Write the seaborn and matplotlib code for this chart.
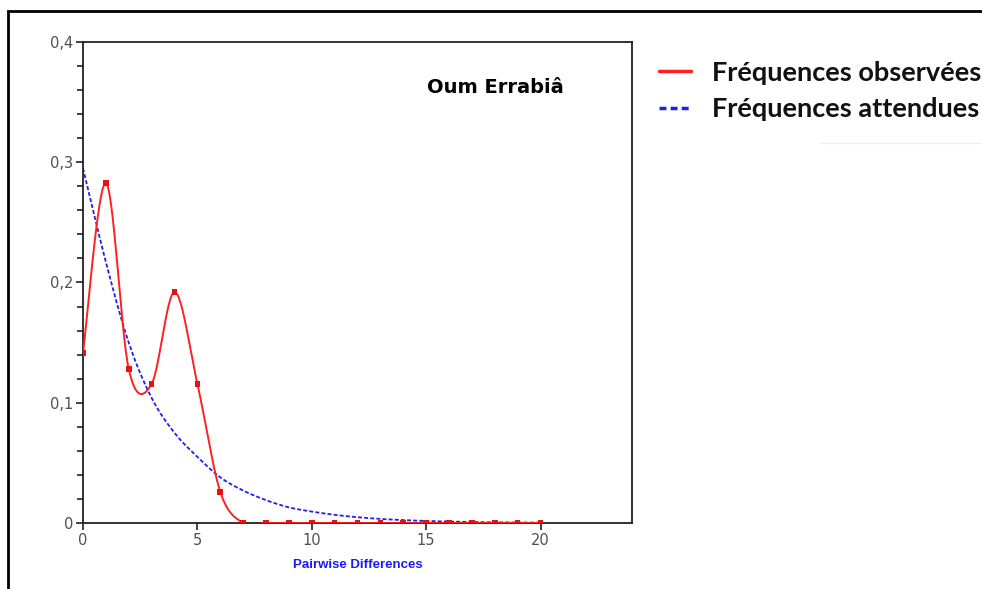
import numpy as np
import pandas as pd
import matplotlib
matplotlib.use("Agg")
import matplotlib.pyplot as plt
from matplotlib.ticker import FuncFormatter, MultipleLocator
from matplotlib.patches import Rectangle
from matplotlib.lines import Line2D
import seaborn as sns

# Mismatch distribution: pairwise differences 0..20
differences = list(range(21))
observed = [0.1414, 0.2827, 0.1280, 0.1156, 0.1920, 0.1156, 0.0260,
            0, 0, 0, 0, 0, 0, 0, 0, 0, 0, 0, 0, 0, 0]
expected = [0.295, 0.217, 0.150, 0.104, 0.075, 0.055, 0.038, 0.027,
            0.019, 0.013, 0.0095, 0.0068, 0.0048, 0.0034, 0.0024,
            0.0017, 0.0012, 0.0008, 0.0006, 0.0004, 0.0003]

site_name = "Oum Errabiâ"
label_observed = "Fréquences observées"
label_expected = "Fréquences attendues"
x_title = "Pairwise Differences"


def cardinal_spline(x, y, tension=0.5, steps=30):
    """Smooth curve through the points (Catmull-Rom style Hermite segments)."""
    x = np.asarray(x, float)
    y = np.asarray(y, float)
    n = len(x)
    mx = np.empty(n)
    my = np.empty(n)
    for i in range(n):
        a = max(i - 1, 0)
        b = min(i + 1, n - 1)
        mx[i] = tension * (x[b] - x[a])
        my[i] = tension * (y[b] - y[a])
    xs, ys = [], []
    t = np.linspace(0, 1, steps, endpoint=False)
    h00 = 2 * t**3 - 3 * t**2 + 1
    h10 = t**3 - 2 * t**2 + t
    h01 = -2 * t**3 + 3 * t**2
    h11 = t**3 - t**2
    for i in range(n - 1):
        xs.append(h00 * x[i] + h10 * mx[i] + h01 * x[i + 1] + h11 * mx[i + 1])
        ys.append(h00 * y[i] + h10 * my[i] + h01 * y[i + 1] + h11 * my[i + 1])
    xs.append([x[-1]])
    ys.append([y[-1]])
    return np.concatenate(xs), np.concatenate(ys)


sns.set_theme(style="white")
plt.rcParams["font.family"] = ["DejaVu Sans"]

fig = plt.figure(figsize=(9.82, 5.89), dpi=100)
ax = fig.add_axes([83 / 982, 1 - 523 / 589, (632 - 83) / 982, (523 - 42) / 589])

ox, oy = cardinal_spline(differences, observed)
ex, ey = cardinal_spline(differences, expected)
exp_curve = pd.DataFrame({"x": ex, "y": ey})
obs_curve = pd.DataFrame({"x": ox, "y": oy})
points = pd.DataFrame({"x": differences, "y": observed})

sns.lineplot(data=exp_curve, x="x", y="y", ax=ax, color="#2020e8", lw=1.3,
             linestyle=(0, (2.2, 1.2)), sort=False, zorder=2)
sns.lineplot(data=obs_curve, x="x", y="y", ax=ax, color="#ff2020", lw=1.4,
             sort=False, zorder=3)
sns.scatterplot(data=points, x="x", y="y", ax=ax, marker="s", s=16,
                color="#e81010", edgecolor="none", zorder=4)

ax.set_xlim(0, 24)
ax.set_ylim(0, 0.4)
ax.xaxis.set_major_locator(MultipleLocator(5))
ax.yaxis.set_major_locator(MultipleLocator(0.1))
ax.yaxis.set_minor_locator(MultipleLocator(0.02))

fmt = FuncFormatter(lambda v, p: "0" if abs(v) < 1e-9 else f"{v:.1f}".replace(".", ","))
ax.yaxis.set_major_formatter(fmt)
ax.xaxis.set_major_formatter(FuncFormatter(lambda v, p: f"{v:.0f}"))

ax.tick_params(axis="both", which="major", direction="out", length=5, width=1.2,
               color="#222222", labelcolor="#505050", labelsize=10.5, pad=2,
               left=True, bottom=True)
ax.tick_params(axis="y", which="minor", direction="out", length=4, width=1.2,
               color="#222222", left=True)

for side in ["left", "bottom", "top", "right"]:
    ax.spines[side].set_visible(True)
    ax.spines[side].set_color("#222222")
    ax.spines[side].set_linewidth(1.3)

ax.set_ylabel("")
ax.set_xlabel(x_title, color="#1a1aff", fontsize=9.5, fontweight="bold",
              family=["Liberation Sans", "DejaVu Sans"], labelpad=8)

ax.text(0.752, 0.906, site_name, transform=ax.transAxes, ha="center", va="center",
        fontsize=14, fontweight="bold", color="black", family=["DejaVu Sans"])

# Legend beside the plot area
handles = [
    Line2D([], [], color="#ff2020", lw=2.5),
    Line2D([], [], color="#2020e8", lw=2.5, linestyle=(0, (2.0, 1.2))),
]
fig.legend(handles, [label_observed, label_expected], loc="upper left",
           bbox_to_anchor=(648 / 982, 1 - 50 / 589), frameon=False,
           prop={"family": ["Lato", "DejaVu Sans"], "weight": "bold", "size": 19.5},
           labelcolor="#111111",
           handlelength=1.2, handletextpad=0.75, labelspacing=0.45, borderaxespad=0)

# Outer frame around the figure content
fig.patches.append(Rectangle((8 / 982, -0.05), 1.05, 1 - 11 / 589 + 0.05,
                             transform=fig.transFigure, fill=False,
                             edgecolor="black", lw=2, zorder=10))
fig.add_artist(Line2D([820 / 982, 1.0], [1 - 143 / 589, 1 - 143 / 589],
                      transform=fig.transFigure, color="#f0f0f0", lw=1))

fig.savefig("out.png", dpi=100)
